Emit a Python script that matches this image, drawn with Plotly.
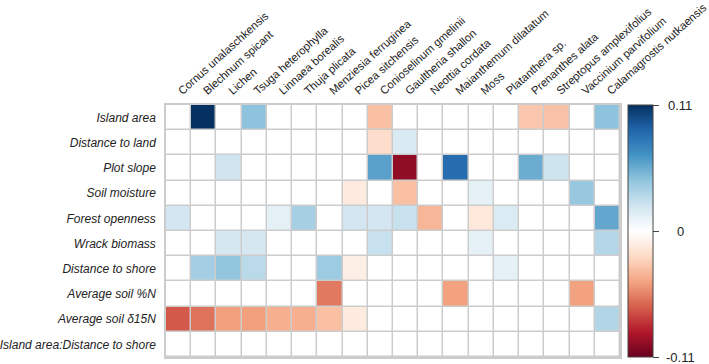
import plotly.graph_objects as go

species = ["Cornus unalaschkensis", "Blechnum spicant", "Lichen", "Tsuga heterophylla",
           "Linnaea borealis", "Thuja plicata", "Menziesia ferruginea", "Picea sitchensis",
           "Conioselinum gmelinii", "Gaultheria shallon", "Neottia cordata",
           "Maianthemum dilatatum", "Moss", "Platanthera sp.", "Prenanthes alata",
           "Streptopus amplexifolius", "Vaccinium parvifolium", "Calamagrostis nutkaensis"]

predictors = ["Island area", "Distance to land", "Plot slope", "Soil moisture",
              "Forest openness", "Wrack biomass", "Distance to shore",
              "Average soil %N", "Average soil δ15N", "Island area:Distance to shore"]

island_area       = [0, 0.11, 0, 0.045, 0, 0, 0, 0, -0.033, 0, 0, 0, 0, 0, -0.03, -0.032, 0, 0.045]
distance_to_land  = [0, 0, 0, 0, 0, 0, 0, 0, -0.02, 0.018, 0, 0, 0, 0, 0, 0, 0, 0]
plot_slope        = [0, 0, 0.022, 0, 0, 0, 0, 0, 0.06, -0.098, 0, 0.085, 0, 0, 0.055, 0.023, 0, 0]
soil_moisture     = [0, 0, 0, 0, 0, 0, 0, -0.012, 0, -0.033, 0, 0, 0.012, 0, 0, 0, 0.042, 0]
forest_openness   = [0.021, 0, 0, 0, 0.013, 0.037, 0, 0.021, 0.021, 0.025, -0.037, 0, -0.014, 0.017, 0, 0, 0, 0.057]
wrack_biomass     = [0, 0, 0.02, 0.02, 0, 0, 0, 0, 0.025, 0, 0, 0, 0.012, 0, 0, 0, 0, 0.032]
distance_to_shore = [0, 0.038, 0.044, 0.03, 0, 0, 0.04, -0.01, 0, 0, 0, 0, 0, 0.012, 0, 0, 0, 0]
soil_n            = [0, 0, 0, 0, 0, 0, -0.058, 0, 0, 0, 0, -0.045, 0, 0, 0, 0, -0.045, 0]
soil_d15n         = [-0.068, -0.06, -0.046, -0.046, -0.04, -0.04, -0.033, -0.012, 0, 0, 0, 0, 0, 0, 0, 0, 0, 0.033]
interaction       = [0] * 18

z = [island_area, distance_to_land, plot_slope, soil_moisture, forest_openness,
     wrack_biomass, distance_to_shore, soil_n, soil_d15n, interaction]

zmin, zmax = -0.11, 0.11
cb_ticks = [-0.11, 0, 0.11]
cb_text = ["-0.11", "0", "0.11"]

rdbu = ["#67001F", "#B2182B", "#D6604D", "#F4A582", "#FDDBC7", "#FFFFFF",
        "#D1E5F0", "#92C5DE", "#4393C3", "#2166AC", "#053061"]
colorscale = [[i / (len(rdbu) - 1), c] for i, c in enumerate(rdbu)]

W, H = 709, 364
ml, mr, mt, mb = 166, 89, 105, 7
plot_w = W - ml - mr

fig = go.Figure(go.Heatmap(
    z=z, x=species, y=predictors,
    colorscale=colorscale, zmin=zmin, zmax=zmax,
    xgap=1.5, ygap=1.5,
    hoverongaps=False,
    colorbar=dict(
        x=(628 - ml) / plot_w, xanchor="left", xpad=0, y=0.5, yanchor="middle",
        len=1, ypad=0,
        thickness=25, outlinecolor="#444", outlinewidth=1,
        tickvals=cb_ticks, ticks="outside", ticklen=6,
        tickcolor="#444", showticklabels=False,
    ),
))

# centred colour-bar labels
for v, t in zip(cb_ticks, cb_text):
    fig.add_annotation(
        x=(680 - ml) / plot_w, xref="paper", xanchor="center",
        y=(v - zmin) / (zmax - zmin), yref="paper", yanchor="middle",
        text=t, showarrow=False,
        font=dict(size=13, color="#222", family="Liberation Sans, Arial"),
    )

fig.update_layout(
    width=W, height=H,
    margin=dict(l=ml, r=mr, t=mt, b=mb),
    paper_bgcolor="white", plot_bgcolor="#cccccc",
    font=dict(family="Liberation Sans, Arial", color="#222"),
    showlegend=False,
)
fig.update_xaxes(side="top", tickangle=-42, tickfont=dict(size=11.3),
                 ticks="outside", ticklen=2, tickcolor="rgba(0,0,0,0)",
                 showline=True, mirror=True, linecolor="#cccccc", linewidth=1.5,
                 showgrid=False, zeroline=False, automargin=False)
fig.update_yaxes(autorange="reversed", tickfont=dict(size=12, style="italic"),
                 ticks="outside", ticklen=6, tickcolor="rgba(0,0,0,0)",
                 showline=True, mirror=True, linecolor="#cccccc", linewidth=1.5,
                 showgrid=False, zeroline=False, automargin=False)

fig.write_html("out.html", config={"displayModeBar": False},
               post_script="document.body.style.margin='0px';document.body.style.overflow='hidden';")
